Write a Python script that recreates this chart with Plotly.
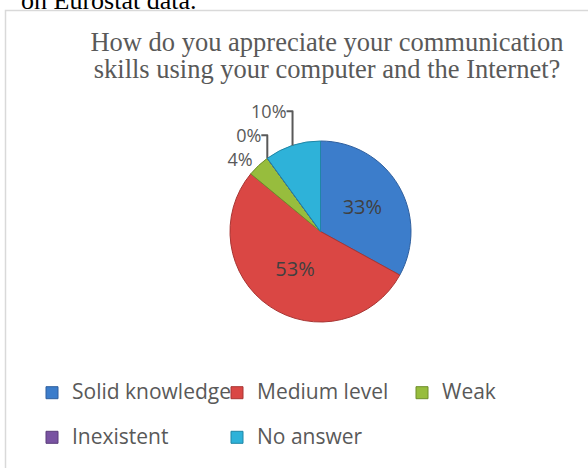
import plotly.graph_objects as go

# Survey answers and their shares (percent)
categories = ["Solid knowledge", "Medium level", "Weak", "Inexistent", "No answer"]
shares = [33, 53, 4, 0, 10]
slice_colors = ["#3C7DCB", "#DA4744", "#97BD3D", "#7953A2", "#2EB2D9"]
edge_colors = ["#2F5F9E", "#A83533", "#6E8E2A", "#5A3C7A", "#1F86A6"]
label_positions = ["inside", "inside", "outside", "outside", "outside"]

title_lines = [
    "How do you appreciate your communication",
    "skills using your computer and the Internet?",
]
caption_text = "on Eurostat data."

W, H = 588, 468


def px_x(x):
    return x / W


def px_y(y):
    return 1 - y / H


# legend rows are spaced apart: a blank first line plus a smaller base font
legend_labels = [
    " <br><span style='font-size:21px'>%s</span>" % c for c in categories
]

# tight title line spacing: small base size, larger glyphs in spans
title_text = "<br>".join(
    "<span style='font-size:26.5px'>%s</span>" % line for line in title_lines
)

fig = go.Figure(
    go.Pie(
        labels=legend_labels,
        values=shares,
        customdata=categories,
        sort=False,
        direction="clockwise",
        rotation=0,
        marker=dict(colors=slice_colors, line=dict(color=edge_colors, width=1)),
        texttemplate="%{percent:.0%}",
        textposition=label_positions,
        insidetextorientation="horizontal",
        insidetextfont=dict(family="Open Sans", size=20, color="#404040"),
        outsidetextfont=dict(family="Open Sans", size=18, color="#595959"),
        hovertemplate="%{customdata}: %{value}%<extra></extra>",
        domain=dict(x=[px_x(229), px_x(412)], y=[px_y(322), px_y(141)]),
        showlegend=True,
    )
)

fig.update_layout(
    width=W,
    height=H,
    margin=dict(l=0, r=0, t=0, b=0),
    paper_bgcolor="white",
    plot_bgcolor="white",
    title=dict(
        text=title_text,
        x=px_x(327), xanchor="center", xref="paper",
        y=px_y(51), yanchor="middle", yref="paper",
        font=dict(family="Liberation Serif", size=21, color="#595959"),
    ),
    annotations=[
        dict(
            text=caption_text, x=px_x(19), y=px_y(0.8), xref="paper", yref="paper",
            xanchor="left", yanchor="middle", showarrow=False,
            font=dict(family="Liberation Serif", size=26, color="#000000"),
        ),
    ],
    shapes=[
        dict(
            type="rect", xref="paper", yref="paper",
            x0=px_x(5.5), x1=1.05, y0=-0.05, y1=px_y(10.5),
            line=dict(color="#D9D9D9", width=1.5), fillcolor="rgba(0,0,0,0)",
        )
    ],
    legend=dict(
        orientation="h",
        x=px_x(32), xanchor="left",
        y=px_y(355), yanchor="top",
        entrywidth=140,
        valign="bottom",
        bgcolor="rgba(0,0,0,0)",
        font=dict(family="Open Sans", size=16, color="#595959"),
    ),
)

fig.write_html("out.html")
